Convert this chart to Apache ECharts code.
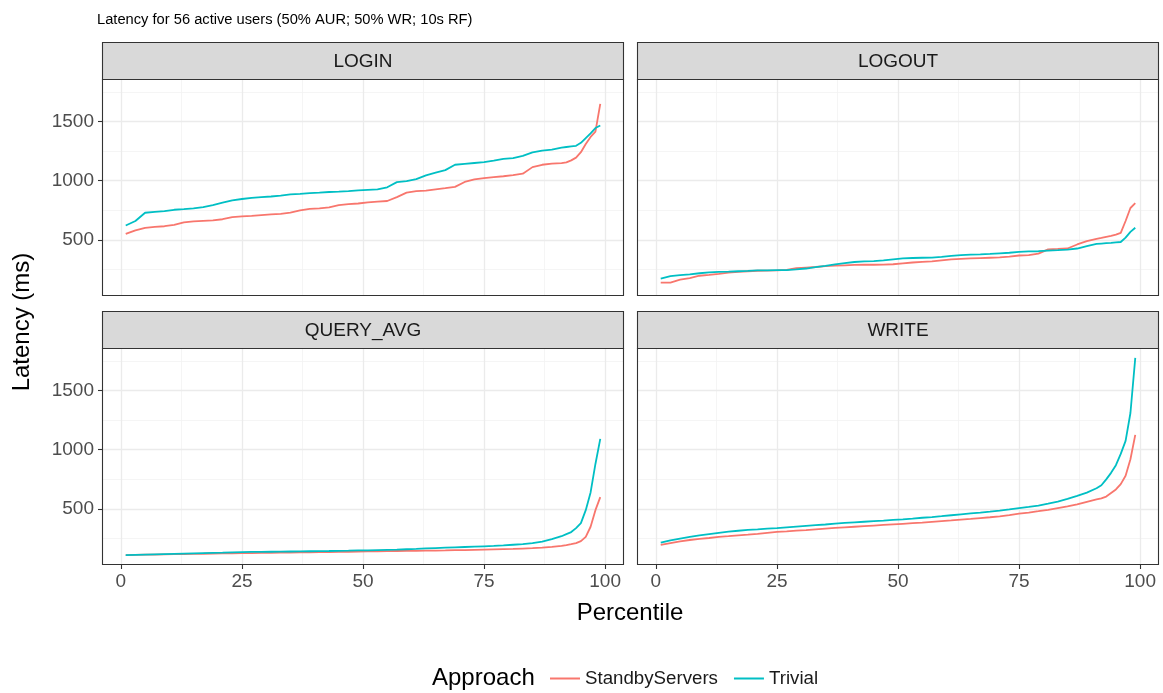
<!DOCTYPE html>
<html>
<head>
<meta charset="utf-8">
<script src="https://cdn.jsdelivr.net/npm/echarts@6/dist/echarts.min.js"></script>
<style>
  html, body { margin: 0; padding: 0; background: #ffffff; }
  #chart { width: 1163px; height: 693px; }
</style>
</head>
<body>
<div id="chart"></div>
<script>
// Percentile positions shared by every curve
const percentiles = [1,3,5,7,9,11,13,15,17,19,21,23,25,27,29,31,33,35,37,39,41,43,45,47,49,51,53,55,57,59,61,63,65,67,69,71,73,75,77,79,81,83,85,87,89,91,92,93,94,95,96,97,98,99];

const panelNames = ['LOGIN', 'LOGOUT', 'QUERY_AVG', 'WRITE'];
const approaches = ['StandbyServers', 'Trivial'];

// Latency (ms) per percentile
const loginStandby = [551,581,603,611,616,628,648,657,662,666,675,693,699,704,710,716,721,730,750,762,766,775,795,802,808,817,824,829,862,900,912,917,927,937,948,990,1012,1022,1030,1038,1047,1060,1115,1135,1145,1149,1155,1172,1195,1241,1310,1370,1415,1649];
const loginTrivial = [622,660,730,738,743,755,760,766,778,795,815,835,846,856,862,867,874,885,890,896,900,905,908,912,918,923,927,945,988,996,1014,1045,1068,1090,1135,1143,1150,1157,1170,1185,1191,1210,1240,1255,1262,1279,1285,1290,1295,1320,1360,1400,1445,1466];
const logoutStandby = [140,140,165,178,198,205,214,224,231,236,240,242,244,247,262,267,272,279,283,286,289,291,291,292,295,303,310,315,320,328,336,340,344,347,350,353,360,369,372,385,421,424,428,462,490,510,518,527,535,545,560,660,770,811];
const logoutTrivial = [174,194,203,209,219,226,230,232,236,239,243,244,245,246,252,259,271,282,294,304,314,319,322,328,337,344,348,350,351,357,365,372,377,379,382,387,392,399,403,405,410,414,419,428,448,467,470,473,476,480,483,520,568,603];
const queryStandby = [110,112,114,115,117,118,120,121,122,124,125,126,127,128,129,130,131,132,133,134,135,136,138,139,141,142,143,144,145,146,147,148,149,150,152,153,155,157,159,161,163,166,169,173,180,188,195,203,212,228,265,350,490,600];
const queryTrivial = [111,113,115,117,119,121,123,125,127,129,131,134,136,137,138,139,140,141,142,143,144,145,147,148,150,151,153,155,157,160,163,167,170,173,176,179,182,185,188,192,198,204,212,225,245,270,288,305,338,380,490,640,880,1092];
const writeStandby = [197,212,227,238,247,255,264,270,277,283,290,298,306,311,317,322,328,334,340,345,350,355,360,365,370,375,380,385,391,397,403,410,416,423,430,438,448,460,470,481,493,507,521,538,560,580,590,605,635,665,710,780,920,1125];
const writeTrivial = [215,235,250,265,277,288,299,308,316,323,328,334,339,345,351,357,363,369,376,382,387,392,397,402,408,413,419,426,432,439,447,455,462,469,477,486,496,507,517,528,545,563,585,610,638,675,700,750,805,870,965,1075,1310,1776];

const panelSeries = [
  [loginStandby, loginTrivial],
  [logoutStandby, logoutTrivial],
  [queryStandby, queryTrivial],
  [writeStandby, writeTrivial]
];

// Axis breaks
const xTicks = [0, 25, 50, 75, 100];
const xMinorTicks = [12.5, 37.5, 62.5, 87.5];
const yTicks = [500, 1000, 1500];
const yMinorTicks = [250, 750, 1250, 1750];

// Scale limits (data range padded by 5% on each side)
const xMin = -3.9, xMax = 103.9;
const yMin = 27, yMax = 1859;

const colors = { StandbyServers: '#F8766D', Trivial: '#00BFC4' };
const FONT = '"Liberation Sans", Arial, Helvetica, sans-serif';

// Panel rectangles (2 x 2 facets)
const boxes = [
  { left: 102, top: 79, width: 522, height: 217 },
  { left: 637, top: 79, width: 522, height: 217 },
  { left: 102, top: 348, width: 522, height: 217 },
  { left: 637, top: 348, width: 522, height: 217 }
];
const stripH = 37;

const plainNumber = v => String(v);

const grids = [], xAxes = [], yAxes = [], series = [], graphics = [];

boxes.forEach((b, i) => {
  const bottomRow = i >= 2;
  const leftCol = i % 2 === 0;
  grids.push({ left: b.left, top: b.top, width: b.width, height: b.height, containLabel: false, show: false });

  xAxes.push({
    type: 'value', gridIndex: i, min: xMin, max: xMax,
    axisLine: { show: false, onZero: false },
    splitLine: { show: false },
    axisTick: { show: bottomRow, customValues: xTicks, length: 4, lineStyle: { color: '#333333', width: 1.1 } },
    axisLabel: { show: bottomRow, customValues: xTicks, formatter: plainNumber, color: '#4D4D4D', fontSize: 19, fontFamily: FONT, margin: 7 }
  });
  yAxes.push({
    type: 'value', gridIndex: i, min: yMin, max: yMax,
    axisLine: { show: false, onZero: false },
    splitLine: { show: false },
    axisTick: { show: leftCol, customValues: yTicks, length: 4, lineStyle: { color: '#333333', width: 1.1 } },
    axisLabel: { show: leftCol, customValues: yTicks, formatter: plainNumber, color: '#4D4D4D', fontSize: 19, fontFamily: FONT, margin: 8 }
  });

  // panel grid lines
  const major = { color: '#EBEBEB', width: 1.3, type: 'solid' };
  const minor = { color: '#F3F3F3', width: 0.8, type: 'solid' };
  series.push({
    type: 'line', xAxisIndex: i, yAxisIndex: i, data: [], silent: true, z: 1, animation: false,
    markLine: {
      silent: true, symbol: ['none', 'none'], label: { show: false }, animation: false, z: 1,
      emphasis: { disabled: true },
      data: [
        ...xMinorTicks.map(v => ({ xAxis: v, lineStyle: minor })),
        ...yMinorTicks.map(v => ({ yAxis: v, lineStyle: minor })),
        ...xTicks.map(v => ({ xAxis: v, lineStyle: major })),
        ...yTicks.map(v => ({ yAxis: v, lineStyle: major }))
      ]
    }
  });

  approaches.forEach((name, k) => {
    const vals = panelSeries[i][k];
    series.push({
      type: 'line', name: name, xAxisIndex: i, yAxisIndex: i,
      data: percentiles.map((p, j) => [p, vals[j]]),
      showSymbol: false, symbol: 'none', silent: true, animation: false, z: 3,
      lineStyle: { color: colors[name], width: 1.8 },
      itemStyle: { color: colors[name] }
    });
  });

  // panel border
  graphics.push({
    type: 'rect', z: 100, silent: true,
    shape: { x: b.left + 0.5, y: b.top + 0.5, width: b.width - 1, height: b.height - 1 },
    style: { fill: 'none', stroke: '#333333', lineWidth: 1.1 }
  });
  // facet strip
  graphics.push({
    type: 'rect', z: 100, silent: true,
    shape: { x: b.left + 0.5, y: b.top - stripH + 0.5, width: b.width - 1, height: stripH },
    style: { fill: '#D9D9D9', stroke: '#333333', lineWidth: 1.1 }
  });
  graphics.push({
    type: 'text', z: 101, silent: true,
    x: b.left + b.width / 2, y: b.top - stripH / 2 + 1,
    style: { text: panelNames[i], textAlign: 'center', textVerticalAlign: 'middle', fill: '#1A1A1A', fontSize: 19, fontFamily: FONT }
  });
});

// titles
graphics.push({
  type: 'text', silent: true, x: 97, y: 20,
  style: { text: 'Latency for 56 active users (50% AUR; 50% WR; 10s RF)', textAlign: 'left', textVerticalAlign: 'middle', fill: '#000000', fontSize: 14.7, fontFamily: FONT }
});
graphics.push({
  type: 'text', silent: true, x: 22, y: 322, rotation: Math.PI / 2,
  style: { text: 'Latency (ms)', textAlign: 'center', textVerticalAlign: 'middle', fill: '#000000', fontSize: 24, fontFamily: FONT }
});
graphics.push({
  type: 'text', silent: true, x: 630, y: 613,
  style: { text: 'Percentile', textAlign: 'center', textVerticalAlign: 'middle', fill: '#000000', fontSize: 24, fontFamily: FONT }
});
graphics.push({
  type: 'text', silent: true, x: 432, y: 678,
  style: { text: 'Approach', textAlign: 'left', textVerticalAlign: 'middle', fill: '#000000', fontSize: 24, fontFamily: FONT }
});

const chart = echarts.init(document.getElementById('chart'), null, { renderer: 'canvas' });
chart.setOption({
  animation: false,
  backgroundColor: '#ffffff',
  grid: grids,
  xAxis: xAxes,
  yAxis: yAxes,
  legend: {
    data: approaches, left: 550, top: 669, orient: 'horizontal', padding: 0,
    icon: 'rect', itemWidth: 30, itemHeight: 2, itemGap: 16, selectedMode: false,
    textStyle: { fontSize: 18.7, color: '#1A1A1A', fontFamily: FONT }
  },
  series: series,
  graphic: { elements: graphics }
});
</script>
</body>
</html>
